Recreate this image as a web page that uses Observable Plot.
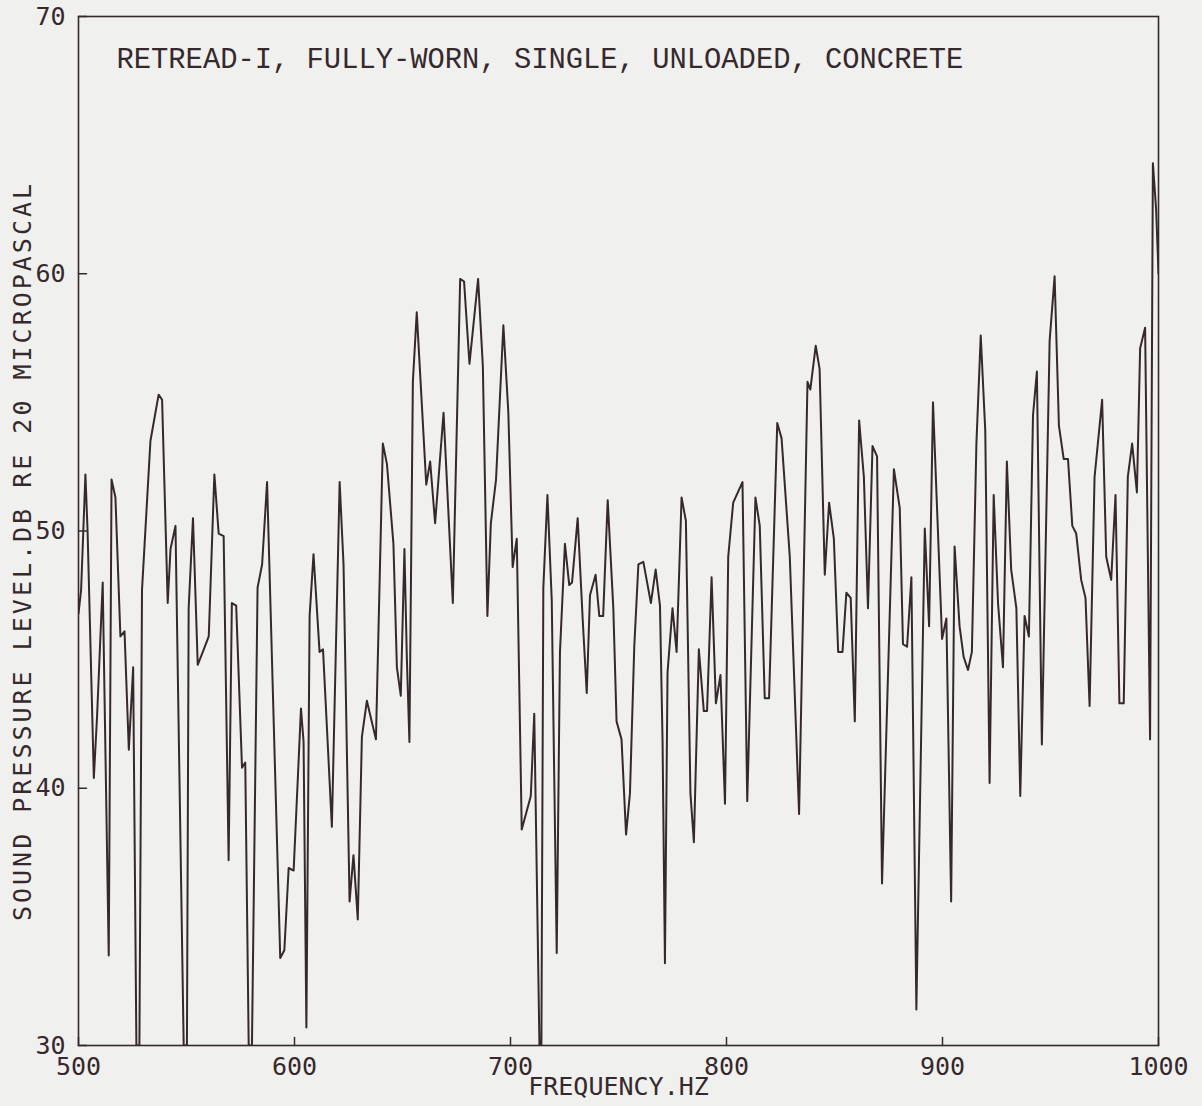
<!DOCTYPE html>
<html>
<head>
<meta charset="utf-8">
<script src="https://cdn.jsdelivr.net/npm/d3@7"></script>
<script src="https://cdn.jsdelivr.net/npm/@observablehq/plot@0.6"></script>
<style>
  html, body { margin: 0; padding: 0; background: #f0f0ee; }
  #chart svg { display: block; }
</style>
</head>
<body>
<div id="chart"></div>
<script>
const title = "RETREAD-I, FULLY-WORN, SINGLE, UNLOADED, CONCRETE";
const xLabel = "FREQUENCY.HZ";
const yLabel = "SOUND PRESSURE LEVEL.DB RE 20 MICROPASCAL";
const xTicks = [500, 600, 700, 800, 900, 1000];
const yTicks = [30, 40, 50, 60, 70];

const frequency = [
  500.0, 501.2, 503.2, 504.2, 507.1, 508.6, 511.2, 514.0, 515.3, 517.1,
  519.4, 521.3, 523.3, 525.3, 526.8, 528.2, 529.4, 533.3, 537.1, 538.7,
  541.3, 542.6, 544.9, 548.7, 550.2, 551.0, 553.0, 555.2, 558.0, 560.3,
  562.9, 564.9, 567.2, 569.5, 571.0, 573.0, 575.7, 577.2, 578.8, 580.3,
  582.9, 585.0, 587.3, 593.4, 595.3, 597.3, 599.6, 603.0, 604.2, 605.5,
  607.0, 608.8, 611.6, 613.2, 617.3, 620.9, 622.7, 625.5, 627.3, 629.3,
  631.2, 633.5, 637.7, 640.9, 642.8, 645.8, 647.4, 649.2, 650.9, 652.0,
  653.2, 654.8, 656.6, 661.0, 662.8, 665.1, 669.0, 673.3, 676.7, 678.5,
  681.0, 685.0, 687.2, 689.3, 690.9, 693.3, 696.7, 699.0, 701.0, 702.9,
  705.2, 709.4, 711.0, 713.4, 714.3, 715.2, 717.1, 719.1, 721.4, 722.9,
  725.2, 727.2, 728.5, 731.1, 733.4, 735.3, 736.8, 739.4, 741.1, 742.9,
  745.0, 747.6, 749.1, 751.4, 753.5, 755.3, 757.3, 759.2, 761.5, 765.0,
  767.2, 769.2, 770.4, 771.5, 772.7, 775.0, 776.9, 779.2, 781.2, 783.3,
  784.9, 787.2, 789.5, 791.0, 793.1, 795.1, 797.2, 799.3, 800.8, 803.1,
  807.4, 809.6, 813.4, 815.4, 817.7, 819.7, 823.5, 825.5, 829.3, 833.6,
  837.5, 838.8, 841.3, 843.1, 845.5, 847.5, 849.7, 851.7, 853.7, 855.5,
  857.5, 859.4, 861.4, 863.6, 865.5, 867.6, 869.7, 872.0, 877.5, 880.2,
  881.7, 883.6, 885.6, 887.9, 891.8, 893.8, 895.6, 899.8, 901.8, 904.0,
  905.6, 907.9, 909.8, 911.8, 913.6, 915.7, 917.7, 919.8, 921.8, 923.7,
  925.7, 928.0, 929.8, 931.8, 934.2, 936.0, 938.0, 940.0, 941.9, 943.7,
  946.0, 949.6, 951.9, 953.9, 956.1, 958.1, 960.1, 961.9, 964.2, 966.2,
  968.1, 970.4, 973.9, 975.8, 978.1, 980.1, 981.9, 983.9, 985.8, 987.8,
  990.0, 991.5, 993.8, 996.1, 997.4, 998.9, 1000.0
];

const level = [
  46.8, 47.7, 52.2, 50.0, 40.4, 42.8, 48.0, 33.5, 52.0, 51.3,
  45.9, 46.1, 41.5, 44.7, 30.0, 30.0, 47.7, 53.5, 55.3, 55.1,
  47.2, 49.3, 50.2, 30.0, 30.0, 47.0, 50.5, 44.8, 45.4, 45.9,
  52.2, 49.9, 49.8, 37.2, 47.2, 47.1, 40.8, 41.0, 30.0, 30.0,
  47.8, 48.7, 51.9, 33.4, 33.7, 36.9, 36.8, 43.1, 41.8, 30.7,
  46.7, 49.1, 45.3, 45.4, 38.5, 51.9, 48.7, 35.6, 37.4, 34.9,
  42.0, 43.4, 41.9, 53.4, 52.6, 49.5, 44.7, 43.6, 49.3, 45.1,
  41.8, 55.8, 58.5, 51.8, 52.7, 50.3, 54.6, 47.2, 59.8, 59.7,
  56.5, 59.8, 56.4, 46.7, 50.3, 52.0, 58.0, 54.6, 48.6, 49.7,
  38.4, 39.7, 42.9, 30.0, 30.0, 47.8, 51.4, 47.3, 33.6, 45.3,
  49.5, 47.9, 48.0, 50.5, 46.6, 43.7, 47.5, 48.3, 46.7, 46.7,
  51.2, 47.0, 42.6, 41.9, 38.2, 39.8, 45.5, 48.7, 48.8, 47.2,
  48.5, 47.1, 41.8, 33.2, 44.5, 47.0, 45.3, 51.3, 50.4, 39.8,
  37.9, 45.4, 43.0, 43.0, 48.2, 43.3, 44.4, 39.4, 49.0, 51.1,
  51.9, 39.5, 51.3, 50.2, 43.5, 43.5, 54.2, 53.6, 49.0, 39.0,
  55.8, 55.5, 57.2, 56.3, 48.3, 51.1, 49.7, 45.3, 45.3, 47.6,
  47.4, 42.6, 54.3, 52.1, 47.0, 53.3, 52.9, 36.3, 52.4, 50.9,
  45.6, 45.5, 48.2, 31.4, 50.1, 46.3, 55.0, 45.8, 46.6, 35.6,
  49.4, 46.3, 45.1, 44.6, 45.3, 53.4, 57.6, 53.9, 40.2, 51.4,
  47.2, 44.7, 52.7, 48.5, 47.0, 39.7, 46.7, 45.9, 54.5, 56.2,
  41.7, 57.4, 59.9, 54.1, 52.8, 52.8, 50.2, 49.9, 48.1, 47.4,
  43.2, 52.1, 55.1, 49.0, 48.1, 51.4, 43.3, 43.3, 52.1, 53.4,
  51.5, 57.1, 57.9, 41.9, 64.3, 62.5, 60.0
];

const spectrum = frequency.map((f, i) => ({frequency: f, level: level[i]}));

const ink = "#35292d";
const paper = "#f0f0ee";
const plotterFont = "'DejaVu Sans Mono', 'Liberation Mono', monospace";

// a plain straight stroke for inward tick marks
const tickShape = {
  draw(context, l) {
    context.moveTo(0, 0);
    context.lineTo(0, -l);
  }
};

const chart = Plot.plot({
  width: 1202,
  height: 1106,
  marginLeft: 78,
  marginRight: 44,
  marginTop: 16,
  marginBottom: 61,
  style: {background: paper, color: ink, fontFamily: plotterFont, fontSize: "25px"},
  x: {domain: [500, 1000], ticks: xTicks},
  y: {domain: [30, 70], ticks: yTicks},
  marks: [
    Plot.frame({stroke: ink, strokeWidth: 1.6}),
    // inward tick marks
    Plot.vector(xTicks, {x: d => d, frameAnchor: "bottom", length: 8, rotate: 0, anchor: "start",
      shape: tickShape, stroke: ink, strokeWidth: 1.5}),
    Plot.vector(yTicks, {y: d => d, frameAnchor: "left", length: 8, rotate: 90, anchor: "start",
      shape: tickShape, stroke: ink, strokeWidth: 1.5}),
    // tick labels
    Plot.axisX(xTicks, {tickSize: 0, tickPadding: 12, stroke: "none", fill: ink, tickFormat: "d", fontSize: 25, label: null}),
    Plot.axisY(yTicks, {tickSize: 0, tickPadding: 13, stroke: "none", fill: ink, tickFormat: "d", fontSize: 25, label: null}),
    Plot.line(spectrum, {x: "frequency", y: "level", stroke: ink, strokeWidth: 2, clip: true}),
    Plot.text([title], {
      text: d => d, frameAnchor: "top-left", textAnchor: "start", lineAnchor: "top",
      dx: 38, dy: 31, fontFamily: "'Liberation Mono', 'Courier New', monospace",
      fontSize: 28.8, fill: ink
    }),
    Plot.text([xLabel], {
      text: d => d, frameAnchor: "bottom", textAnchor: "middle", lineAnchor: "middle", dy: 41,
      fontFamily: plotterFont, fontSize: 25, fill: ink
    }),
    Plot.text([yLabel], {
      text: d => d, frameAnchor: "left", textAnchor: "middle", lineAnchor: "middle",
      rotate: -90, dx: -56, dy: 20,
      fontFamily: plotterFont, fontSize: 25, fill: ink
    })
  ]
});

// the plotter spaced the vertical title's letters more widely
d3.select(chart).selectAll("text")
  .filter(function () { return this.textContent === yLabel; })
  .attr("letter-spacing", 3);

document.getElementById("chart").appendChild(chart);
</script>
</body>
</html>
